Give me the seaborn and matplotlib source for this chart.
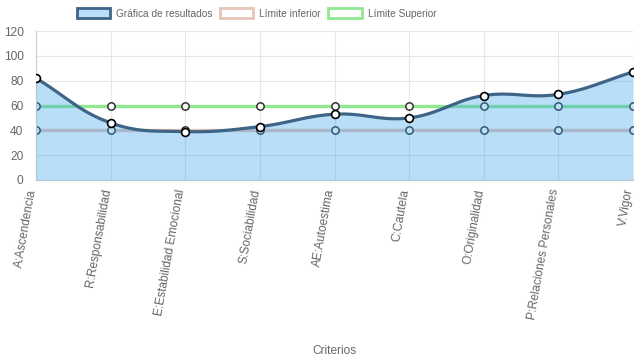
import numpy as np
import pandas as pd
import matplotlib.pyplot as plt
import matplotlib.transforms as mtransforms
import seaborn as sns
from matplotlib.patches import Patch

criterios = ['A:Ascendencia', 'R:Responsabilidad', 'E:Estabilidad Emocional', 'S:Sociabilidad',
             'AE:Autoestima', 'C:Cautela', 'O:Originalidad', 'P:Relaciones Personales', 'V:Vigor']
resultados = [82, 46, 39, 43, 53, 50, 68, 69, 87]
limite_inferior = [40, 40, 40, 40, 40, 40, 40, 40, 40]
limite_superior = [60, 60, 60, 60, 60, 60, 60, 60, 60]

df = pd.DataFrame({'x': np.arange(len(criterios)), 'res': resultados,
                   'inf': limite_inferior, 'sup': limite_superior})

# pixel scale of the plot area, used so the curve bends like chart.js (tension 0.4)
PX_X, PX_Y = 74.6, 149 / 120


def smooth(xs, ys, t=0.4, n=30):
    px = np.array(xs, float) * PX_X
    py = np.array(ys, float) * PX_Y
    m = len(px)
    c_prev, c_next = [], []
    for i in range(m):
        p0 = (px[max(i - 1, 0)], py[max(i - 1, 0)])
        p1 = (px[i], py[i])
        p2 = (px[min(i + 1, m - 1)], py[min(i + 1, m - 1)])
        d01 = np.hypot(p1[0] - p0[0], p1[1] - p0[1])
        d12 = np.hypot(p2[0] - p1[0], p2[1] - p1[1])
        s01 = d01 / (d01 + d12) if d01 + d12 else 0
        s12 = d12 / (d01 + d12) if d01 + d12 else 0
        fa, fb = t * s01, t * s12
        c_prev.append((p1[0] - fa * (p2[0] - p0[0]), p1[1] - fa * (p2[1] - p0[1])))
        c_next.append((p1[0] + fb * (p2[0] - p0[0]), p1[1] + fb * (p2[1] - p0[1])))
    out_x, out_y = [], []
    s = np.linspace(0, 1, n)
    for i in range(m - 1):
        P0 = np.array([px[i], py[i]]); P3 = np.array([px[i + 1], py[i + 1]])
        P1 = np.array(c_next[i]); P2 = np.array(c_prev[i + 1])
        b = ((1 - s) ** 3)[:, None] * P0 + (3 * (1 - s) ** 2 * s)[:, None] * P1 \
            + (3 * (1 - s) * s ** 2)[:, None] * P2 + (s ** 3)[:, None] * P3
        out_x.extend(b[:, 0] / PX_X); out_y.extend(b[:, 1] / PX_Y)
    return np.array(out_x), np.array(out_y)


sns.set_style('white')
plt.rcParams['font.family'] = ['Liberation Sans', 'DejaVu Sans']

fig = plt.figure(figsize=(6.37, 3.59), dpi=100)
ax = fig.add_axes([36 / 637, 179 / 359, 597 / 637, 149 / 359])

blue_fill = (54 / 255, 162 / 255, 235 / 255)
line_blue = '#3e6588'
rosy = '#e7c3b8'
green = '#90e890'

# limit lines (drawn under the translucent fill)
sns.lineplot(data=df, x='x', y='inf', color=rosy, linewidth=2.4, ax=ax, zorder=1)
sns.lineplot(data=df, x='x', y='sup', color=green, linewidth=2.4, ax=ax, zorder=1)
for col in ['inf', 'sup']:
    sns.scatterplot(data=df, x='x', y=col, s=28, facecolor='white', edgecolor='#333333',
                    linewidth=1.1, ax=ax, zorder=2)

sx, sy = smooth(df['x'], df['res'])
ax.fill_between(sx, 0, sy, color=blue_fill, alpha=0.35, linewidth=0, zorder=3)
sns.lineplot(x=sx, y=sy, sort=False, color=line_blue, linewidth=2.3, ax=ax, zorder=4)
sns.scatterplot(data=df, x='x', y='res', s=32, facecolor='white', edgecolor='black',
                linewidth=1.2, ax=ax, zorder=5)

ax.set_xlim(0, len(criterios) - 1)
ax.set_ylim(0, 120)
ax.set_yticks(range(0, 121, 20))
ax.set_xticks(df['x'])
ax.set_xticklabels([])
# rotated category labels placed by hand so the top end sits just left of each tick
lbl_trans = ax.get_xaxis_transform() + mtransforms.ScaledTranslation(-3.5 / 100, -9 / 100,
                                                                      fig.dpi_scale_trans)
for xi, name in zip(df['x'], criterios):
    ax.text(xi, 0, name, transform=lbl_trans, rotation=80, rotation_mode='anchor',
            ha='right', va='center', fontsize=8.6, color='#666666', clip_on=False)
ax.grid(True, color='#e6e6e6', linewidth=0.8)
ax.tick_params(axis='both', colors='#666666', labelsize=8.6, length=6, width=0.8,
               color='#d9d9d9', direction='out', pad=3)
ax.set_ylabel('')
ax.set_xlabel('Criterios', fontsize=8.6, color='#666666')
ax.xaxis.set_label_coords(0.5, -1.11)
for sp in ['top', 'right']:
    ax.spines[sp].set_visible(False)
for sp in ['left', 'bottom']:
    ax.spines[sp].set_color('#d0d0d0')
    ax.spines[sp].set_linewidth(0.9)

handles = [
    Patch(facecolor=(*blue_fill, 0.35), edgecolor=line_blue, linewidth=2),
    Patch(facecolor='white', edgecolor=rosy, linewidth=2),
    Patch(facecolor='white', edgecolor=green, linewidth=2),
]
labels = ['Gráfica de resultados', 'Límite inferior', 'Límite Superior']
fig.legend(handles, labels, loc='upper center', bbox_to_anchor=(256.5 / 637, 1.0), ncol=3,
           frameon=False, fontsize=7.3, labelcolor='#666666', handlelength=3.3,
           handleheight=1.15, handletextpad=0.6, columnspacing=0.7, borderaxespad=0.4)

fig.savefig('out.png', dpi=100)
